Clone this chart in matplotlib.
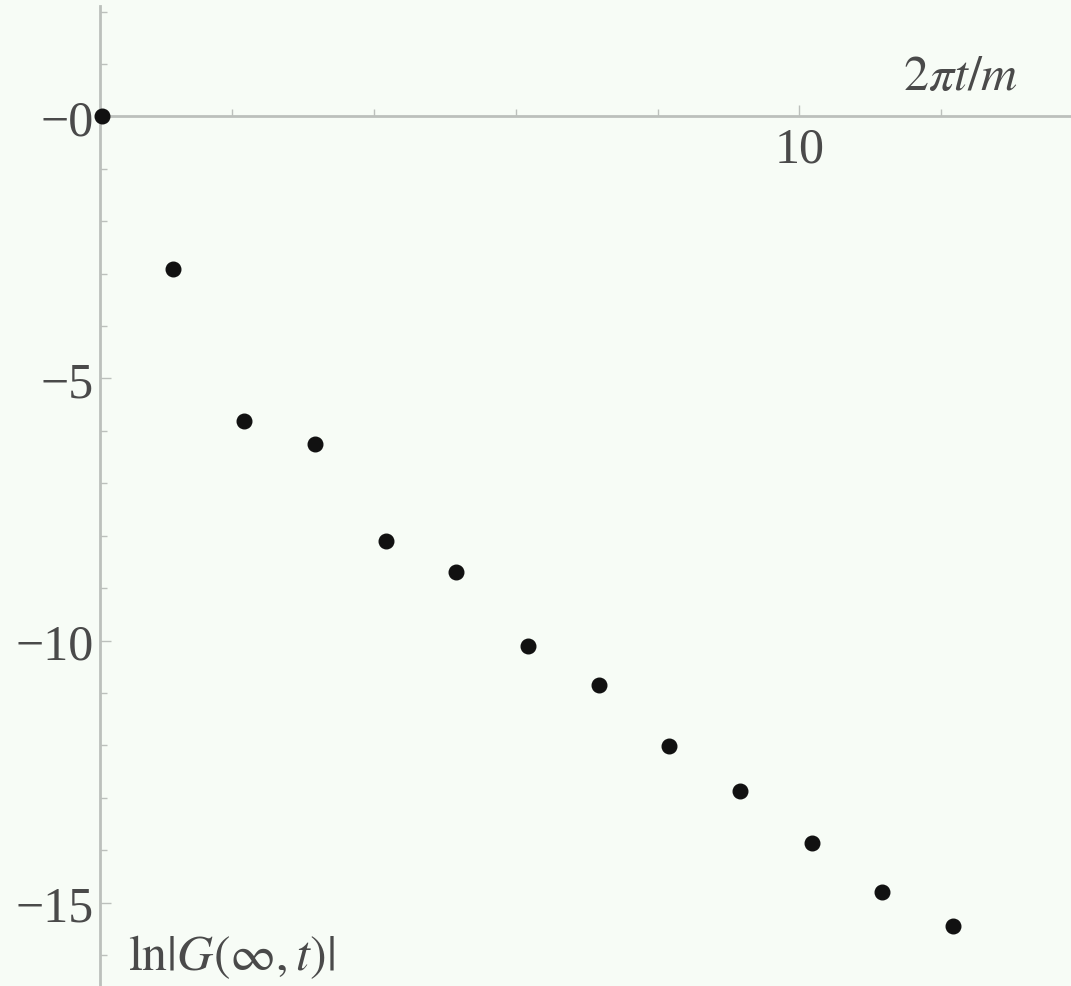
import numpy as np
import matplotlib.pyplot as plt
from matplotlib.ticker import FixedLocator, FixedFormatter

plt.rcParams['mathtext.fontset'] = 'stix'

# data
x_vals = [0.16, 1.16, 2.16, 3.16, 4.17, 5.16, 6.17, 7.17, 8.16, 9.16, 10.17, 11.16, 12.16]
y_vals = [0.0, -2.92, -5.82, -6.25, -8.10, -8.70, -10.10, -10.85, -12.01, -12.87, -13.87, -14.79, -15.44]

x_major = [10]
x_minor = [2, 4, 6, 8, 12]
y_major = [0, -5, -10, -15]
y_major_labels = ['\u22120', '\u22125', '\u221210', '\u221215']
y_minor = [v for v in range(-16, 3) if v % 5 != 0]

axis_x0 = 0.14
bg = '#f7fcf6'
axis_col = '#bcc0bc'
text_col = '#4a4a4a'

fig = plt.figure(figsize=(10.71, 9.87), dpi=100, facecolor=bg)
ax = fig.add_axes([0, 0, 1, 1], facecolor=bg)

ax.plot(x_vals, y_vals, 'o', color='#111111', markersize=10.5, clip_on=False, zorder=5)

ax.set_xlim(-1.276, 13.83)
ax.set_ylim(-16.59, 2.24)

for s in ['top', 'right']:
    ax.spines[s].set_visible(False)
ax.spines['left'].set_position(('data', axis_x0))
ax.spines['bottom'].set_position(('data', 0))
ax.spines['left'].set_bounds(-16.59, 2.1)
ax.spines['bottom'].set_bounds(axis_x0, 13.83)
for s in ['left', 'bottom']:
    ax.spines[s].set_color(axis_col)
    ax.spines[s].set_linewidth(2)

ax.xaxis.set_major_locator(FixedLocator(x_major))
ax.xaxis.set_minor_locator(FixedLocator(x_minor))
ax.xaxis.set_major_formatter(FixedFormatter(['10']))
ax.yaxis.set_major_locator(FixedLocator(y_major))
ax.yaxis.set_minor_locator(FixedLocator(y_minor))
ax.yaxis.set_major_formatter(FixedFormatter(y_major_labels))

ax.tick_params(which='both', direction='in', color=axis_col, width=1.0)
ax.tick_params(which='major', length=8)
ax.tick_params(which='minor', length=5)
ax.tick_params(axis='x', which='major', pad=7, labelsize=36, labelcolor=text_col)
ax.tick_params(axis='y', which='major', pad=5, labelsize=36, labelcolor=text_col)
for lab in ax.get_xticklabels() + ax.get_yticklabels():
    lab.set_family('Liberation Serif')

# axis labels, Mathematica style
fig.text(903 / 1071, 1 - 100 / 987, r'$2\pi t/m$', fontsize=36, color=text_col,
         ha='left', va='bottom')
fig.text(128 / 1071, 6 / 987, r'$\ln|G(\infty,t)|$', fontsize=36, color=text_col,
         ha='left', va='bottom')

fig.savefig('out.png', dpi=100, facecolor=bg)
